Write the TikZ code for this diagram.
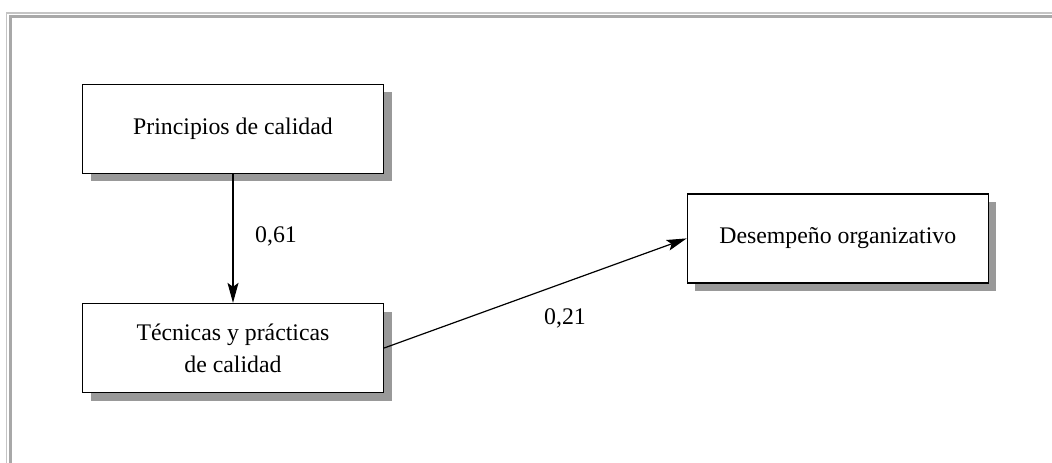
\documentclass[tikz,border=0pt]{standalone}
\usepackage{fontspec}
\setmainfont{Liberation Serif}
\usetikzlibrary{arrows.meta,shadows}

\definecolor{frameouter}{HTML}{C4C4C4}
\definecolor{frameinner}{HTML}{A8A8A8}
\definecolor{shadowgray}{HTML}{999999}

\begin{document}
\begin{tikzpicture}[x=1pt,y=-1pt,
  every node/.style={font=\fontsize{23.8}{32}\selectfont},
  box/.style={draw=black, fill=white, line width=1.3pt,
    minimum width=301pt, minimum height=89pt, align=center, inner sep=0pt,
    drop shadow={shadow xshift=8pt, shadow yshift=-8pt, fill=shadowgray, opacity=1}},
  link/.style={line width=1.2pt, -{Stealth[length=20pt, width=11pt, inset=4pt]}},
  weight/.style={inner sep=0pt}
]
\useasboundingbox (0,0) rectangle (1052,463);

% double gray frame along the top and left edges
\draw[frameouter, line width=1.5pt] (6.5,463) -- (6.5,13) -- (1052,13);
\draw[frameinner, line width=2.5pt] (10.5,463) -- (10.5,16.5) -- (1052,16.5);

% boxes
\node[box] (p) at (233,128.8) {Principios de calidad};
\node[box] (t) at (233,348) {Técnicas y prácticas\\de calidad};
\node[box] (d) at (837.8,238.4) {Desempeño organizativo};

% paths with coefficients
\draw[link] (p) -- (t);
\draw[link] (t.east) -- (d.west);
\node[weight] (w1) at (276,236) {0,61};
\node[weight] (w2) at (565,318) {0,21};
\end{tikzpicture}
\end{document}
